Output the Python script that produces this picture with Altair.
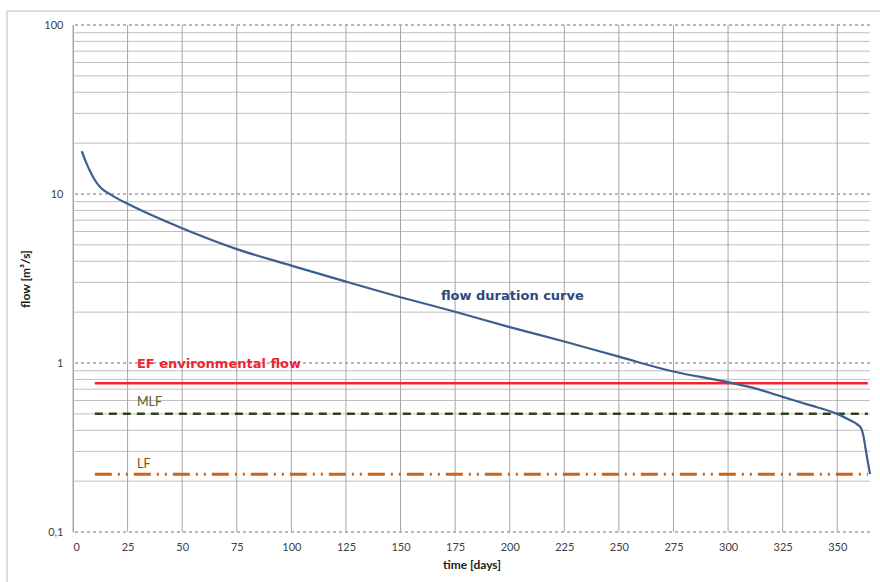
import altair as alt
import pandas as pd

# Flow duration curve (day of exceedance -> flow in m3/s)
days = [4, 6, 8, 10, 12, 14, 16, 20, 25, 50, 75, 100, 125, 150, 175, 200, 225, 250,
        275, 300, 312, 325, 337, 350, 355, 359, 361, 362, 363, 364, 365]
flow = [17.9, 15.4, 13.5, 12.1, 11.15, 10.55, 10.15, 9.45, 8.75, 6.27, 4.72, 3.77, 3.03,
        2.45, 2.01, 1.63, 1.34, 1.09, 0.89, 0.77, 0.71, 0.63, 0.565, 0.50, 0.465, 0.435,
        0.41, 0.37, 0.31, 0.26, 0.22]

# Threshold flows
ef_value, mlf_value, lf_value = 0.76, 0.50, 0.22
threshold_start, threshold_end = 10, 364

# Grid positions
x_grid = [0, 25, 50, 75, 100, 125, 150, 175, 200, 225, 250, 275, 300, 325, 350]
y_major = [0.1, 1, 10, 100]
y_minor = [m * d for d in (0.1, 1, 10) for m in range(2, 10)]

curve_df = pd.DataFrame({"day": days, "flow": flow})

x_scale = alt.Scale(domain=[0, 365], nice=False, zero=False)
y_scale = alt.Scale(type="log", domain=[0.1, 100], nice=False)

base = alt.Chart(curve_df)

# Outer frame of the figure
frame = alt.Chart(pd.DataFrame({"k": [0]})).mark_rect(
    fill=None, stroke="#bdbdbd", strokeWidth=1
).encode(x=alt.value(-66), x2=alt.value(900), y=alt.value(-14), y2=alt.value(600))

minor = alt.Chart(pd.DataFrame({"v": y_minor})).mark_rule(
    color="#c0c0c0", strokeWidth=1
).encode(y=alt.Y("v:Q", scale=y_scale))

vgrid = alt.Chart(pd.DataFrame({"d": x_grid})).mark_rule(
    color="#a6a6a6", strokeWidth=1
).encode(x=alt.X("d:Q", scale=x_scale))

major = alt.Chart(pd.DataFrame({"v": y_major})).mark_rule(
    color="#a0a0a0", strokeWidth=1.5, strokeDash=[3, 3]
).encode(y=alt.Y("v:Q", scale=y_scale))

def threshold(value, color, width, dash=None):
    df = pd.DataFrame({"d": [threshold_start], "d2": [threshold_end], "v": [value]})
    kw = dict(color=color, strokeWidth=width)
    if dash:
        kw["strokeDash"] = dash
    return alt.Chart(df).mark_rule(**kw).encode(
        x=alt.X("d:Q", scale=x_scale), x2="d2:Q", y=alt.Y("v:Q", scale=y_scale)
    )

ef_line = threshold(ef_value, "#f5222d", 2.5)
mlf_line = threshold(mlf_value, "#33401f", 2.5, [8, 6])
lf_line = threshold(lf_value, "#c8651b", 3, [17, 6, 2, 6, 2, 6])

curve = base.mark_line(color="#3d5f8e", strokeWidth=2.2, interpolate="monotone").encode(
    x=alt.X(
        "day:Q", scale=x_scale,
        axis=alt.Axis(values=x_grid, grid=False, domain=False, ticks=False,
                      labelPadding=9, labelFont="Lato", labelFontSize=11,
                      labelColor="#404040", title="time [days]", titleFont="Lato",
                      titleFontSize=12, titleFontWeight="bold", titleColor="#1a1a1a",
                      titlePadding=7),
    ),
    y=alt.Y(
        "flow:Q", scale=y_scale,
        axis=alt.Axis(values=y_major, grid=False, domain=True, domainColor="#a6a6a6",
                      ticks=False, labelPadding=10, labelFont="Lato", labelFontSize=11,
                      labelColor="#404040",
                      labelExpr="replace(format(datum.value, '~g'), '.', ',')",
                      title="flow [m³/s]", titleFont="Lato", titleFontSize=12,
                      titleFontWeight="bold", titleColor="#1a1a1a", titlePadding=11),
    ),
)

labels_df = pd.DataFrame({
    "day": [29.3, 29.3, 29.3, 168.5],
    "flow": [0.99, 0.59, 0.253, 2.49],
    "text": ["EF environmental flow", "MLF", "LF", "flow duration curve"],
})

def label(i, color, size, weight, font="DejaVu Sans"):
    return alt.Chart(labels_df.iloc[[i]]).mark_text(
        align="left", baseline="middle", font=font, fontSize=size,
        fontWeight=weight, color=color
    ).encode(x=alt.X("day:Q", scale=x_scale), y=alt.Y("flow:Q", scale=y_scale), text="text:N")

ef_text = label(0, "#f0262d", 13, "bold")
mlf_text = label(1, "#4f6228", 12.5, "normal", "Lato")
lf_text = label(2, "#984807", 12.5, "normal", "Lato")
curve_text = label(3, "#2c4a7c", 13, "bold")

chart = alt.layer(
    frame, minor, vgrid, major, ef_line, mlf_line, lf_line, curve,
    ef_text, mlf_text, lf_text, curve_text,
).properties(
    width=797, height=507,
    autosize=alt.AutoSizeParams(type="none"),
    padding={"left": 73, "top": 25, "right": 10, "bottom": 50},
    background="white",
).configure_view(stroke=None)

chart.save("out.html", embed_options={"renderer": "svg", "actions": False})
